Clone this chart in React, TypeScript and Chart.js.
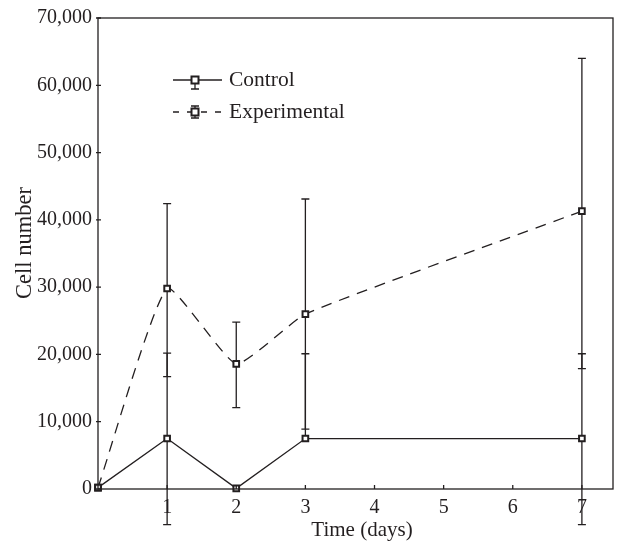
import { useEffect, useRef } from "react";
import { Chart, registerables } from "chart.js";

Chart.register(...registerables);

const days = [0, 1, 2, 3, 7];
const controlValues = [200, 7500, 100, 7500, 7500];
const controlErrUp = [0, 12700, 0, 12600, 12600];
const controlErrDown = [0, 12800, 0, 0, 12800];
const expValues = [200, 29800, 18600, 26000, 41300];
const expErrUp = [0, 12600, 6200, 17100, 22700];
const expErrDown = [0, 13100, 6500, 17100, 23400];
const yTickValues = [0, 10000, 20000, 30000, 40000, 50000, 60000, 70000];
const xTickValues = [1, 2, 3, 4, 5, 6, 7];
const seriesNames = ["Control", "Experimental"];
const xTitle = "Time (days)";
const yTitle = "Cell number";

const FONT = '"Liberation Serif", "Times New Roman", serif';
const INK = "#231f20";

export default function App() {
  const ref = useRef<HTMLCanvasElement>(null);

  useEffect(() => {
    document.body.style.margin = "0";
    const canvas = ref.current;
    if (!canvas) return;

    const errorBars = {
      id: "errorBars",
      beforeDatasetsDraw(chart: any) {
        const ctx = chart.ctx;
        const xs = chart.scales.x;
        const ys = chart.scales.y;
        const sets = [
          { v: controlValues, up: controlErrUp, dn: controlErrDown },
          { v: expValues, up: expErrUp, dn: expErrDown },
        ];
        ctx.save();
        ctx.strokeStyle = INK;
        ctx.lineWidth = 1.3;
        ctx.setLineDash([]);
        sets.forEach((s) => {
          days.forEach((d, i) => {
            if (!s.up[i] && !s.dn[i]) return;
            const px = xs.getPixelForValue(d);
            const yTop = ys.getPixelForValue(s.v[i] + s.up[i]);
            const yBot = ys.getPixelForValue(s.v[i] - s.dn[i]);
            ctx.beginPath();
            ctx.moveTo(px, yTop);
            ctx.lineTo(px, yBot);
            if (s.up[i]) {
              ctx.moveTo(px - 4, yTop);
              ctx.lineTo(px + 4, yTop);
            }
            if (s.dn[i]) {
              ctx.moveTo(px - 4, yBot);
              ctx.lineTo(px + 4, yBot);
            }
            ctx.stroke();
          });
        });
        ctx.restore();
      },
    };

    const decor = {
      id: "decor",
      afterDraw(chart: any) {
        const ctx = chart.ctx;
        const a = chart.chartArea;
        const xs = chart.scales.x;
        const ys = chart.scales.y;
        ctx.save();
        ctx.strokeStyle = INK;
        ctx.lineWidth = 1.3;
        ctx.setLineDash([]);
        // frame
        ctx.strokeRect(a.left, a.top, a.right - a.left, a.bottom - a.top);
        // ticks
        ctx.beginPath();
        xTickValues.forEach((v) => {
          const px = xs.getPixelForValue(v);
          ctx.moveTo(px, a.bottom);
          ctx.lineTo(px, a.bottom - 4);
        });
        yTickValues.forEach((v) => {
          const py = ys.getPixelForValue(v);
          ctx.moveTo(a.left - 2, py);
          ctx.lineTo(a.left + 3, py);
        });
        ctx.stroke();

        // axis titles
        ctx.fillStyle = INK;
        ctx.textAlign = "center";
        ctx.textBaseline = "middle";
        ctx.font = `21px ${FONT}`;
        ctx.fillText(xTitle, 362, 530);
        ctx.save();
        ctx.font = `22.5px ${FONT}`;
        ctx.translate(25, 243);
        ctx.rotate(-Math.PI / 2);
        ctx.fillText(yTitle, 0, 0);
        ctx.restore();

        // legend
        const lx0 = 173;
        const lx1 = 222;
        const mx = 195;
        const rows = [
          { y: 80, dash: [] as number[], capTop: 0, capBot: 9 },
          { y: 112, dash: [6, 8], capTop: 6, capBot: 6 },
        ];
        ctx.font = `21.5px ${FONT}`;
        rows.forEach((r, i) => {
          ctx.beginPath();
          ctx.setLineDash(r.dash);
          ctx.moveTo(lx0, r.y);
          ctx.lineTo(lx1, r.y);
          ctx.stroke();
          ctx.setLineDash([]);
          ctx.beginPath();
          ctx.moveTo(mx, r.y - r.capTop);
          ctx.lineTo(mx, r.y + r.capBot);
          if (r.capTop) {
            ctx.moveTo(mx - 4, r.y - r.capTop);
            ctx.lineTo(mx + 4, r.y - r.capTop);
          }
          ctx.moveTo(mx - 4, r.y + r.capBot);
          ctx.lineTo(mx + 4, r.y + r.capBot);
          ctx.stroke();
          ctx.fillStyle = "#fff";
          ctx.fillRect(mx - 3.5, r.y - 3.5, 7, 7);
          ctx.lineWidth = 2;
          ctx.strokeRect(mx - 3.5, r.y - 3.5, 7, 7);
          ctx.lineWidth = 1.3;
          ctx.fillStyle = INK;
          ctx.textAlign = "left";
          ctx.textBaseline = "middle";
          ctx.fillText(seriesNames[i], 229, r.y);
        });
        ctx.restore();
      },
    };

    const chart = new Chart(canvas, {
      type: "line",
      data: {
        datasets: [
          {
            label: seriesNames[0],
            data: days.map((d, i) => ({ x: d, y: controlValues[i] })),
            borderColor: INK,
            borderWidth: 1.3,
            pointStyle: "rect",
            pointRadius: 4,
            pointBackgroundColor: "#fff",
            pointBorderColor: INK,
            pointBorderWidth: 2,
            tension: 0,
            clip: false as any,
          },
          {
            label: seriesNames[1],
            data: days.map((d, i) => ({ x: d, y: expValues[i] })),
            borderColor: INK,
            borderWidth: 1.3,
            borderDash: [11, 8],
            pointStyle: "rect",
            pointRadius: 4,
            pointBackgroundColor: "#fff",
            pointBorderColor: INK,
            pointBorderWidth: 2,
            tension: 0.15,
            clip: false as any,
          },
        ],
      },
      options: {
        responsive: false,
        animation: false,
        devicePixelRatio: 1,
        layout: { padding: { top: 14, right: 10, left: 0, bottom: 0 } },
        plugins: {
          legend: { display: false },
          tooltip: { enabled: false },
        },
        scales: {
          x: {
            type: "linear",
            min: 0,
            max: 7.45,
            afterFit: (s: any) => {
              s.height = 55;
            },
            afterBuildTicks: (s: any) => {
              s.ticks = xTickValues.map((v) => ({ value: v }));
            },
            grid: { display: true, drawOnChartArea: false, drawTicks: false },
            border: { display: false },
            ticks: {
              color: INK,
              font: { family: FONT, size: 20 },
              padding: 7,
              maxRotation: 0,
              autoSkip: false,
            },
          },
          y: {
            type: "linear",
            min: 0,
            max: 70000,
            afterFit: (s: any) => {
              s.width = 98;
            },
            afterBuildTicks: (s: any) => {
              s.ticks = yTickValues.map((v) => ({ value: v }));
            },
            grid: { display: true, drawOnChartArea: false, drawTicks: false },
            border: { display: false },
            ticks: {
              color: INK,
              font: { family: FONT, size: 20 },
              padding: 6,
              callback: (v: any) => Number(v).toLocaleString("en-US"),
            },
          },
        },
      },
      plugins: [errorBars, decor],
    });

    return () => chart.destroy();
  }, []);

  return (
    <div style={{ width: 623, height: 544 }}>
      <canvas ref={ref} width={623} height={544} style={{ width: 623, height: 544, display: "block" }} />
    </div>
  );
}
